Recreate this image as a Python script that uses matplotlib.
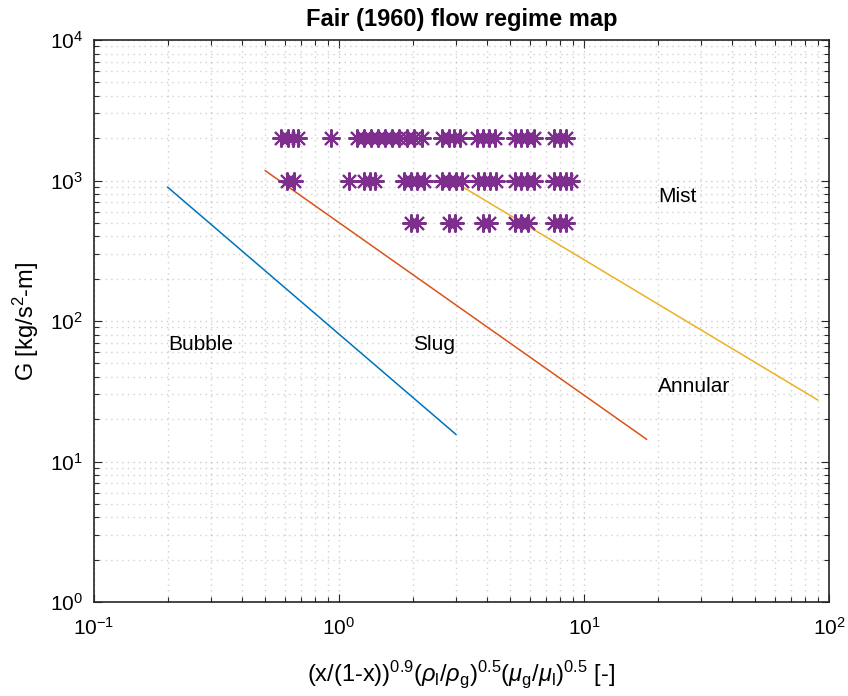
import matplotlib
matplotlib.use("Agg")
import matplotlib.pyplot as plt
import numpy as np

plt.rcParams['font.family'] = ['Liberation Sans', 'DejaVu Sans']
plt.rcParams['mathtext.fontset'] = 'custom'
plt.rcParams['mathtext.rm'] = 'Liberation Sans'
plt.rcParams['mathtext.it'] = 'Liberation Sans:italic'
plt.rcParams['mathtext.bf'] = 'Liberation Sans:bold'
plt.rcParams['axes.unicode_minus'] = False

# Boundary lines (endpoints in data units)
bubble_x = [0.2, 3.0]
bubble_G = [895, 15.6]
slug_x = [0.5, 18.0]
slug_G = [1175, 14.4]
annular_x = [3.1, 90.0]
annular_G = [930, 27.4]

# Data points, grouped by mass flux G
pts_G2000_x = [0.58, 0.62, 0.65, 0.68, 0.93,
               1.18, 1.26, 1.35, 1.44, 1.54, 1.65, 1.76, 1.89, 2.02, 2.18,
               2.64, 2.80, 2.96, 3.13, 3.67, 3.88, 4.11, 4.35,
               5.21, 5.53, 5.87, 6.23, 7.54, 7.98, 8.47]
pts_G1000_x = [0.615, 0.653, 1.10, 1.27, 1.34, 1.40,
               1.85, 1.97, 2.09, 2.22, 2.64, 2.81, 2.99, 3.18,
               3.69, 3.91, 4.13, 4.37, 5.21, 5.53, 5.87, 6.23,
               7.54, 7.96, 8.42, 8.88]
pts_G500_x = [1.96, 2.08, 2.81, 2.97, 3.87, 4.11, 5.21, 5.55, 5.91,
              7.54, 7.98, 8.47]
G_levels = [2000, 1000, 500]

labels = ["Bubble", "Slug", "Annular", "Mist"]
label_x = [0.2, 2.0, 20.0, 20.0]
label_G = [68, 68, 34, 770]

blue = '#0072BD'
orange = '#D95319'
yellow = '#EDB120'
purple = '#7E2F8E'

fig = plt.figure(figsize=(8.48, 6.96), dpi=100)
ax = fig.add_axes([94/848, 1-602/696, (829-94)/848, (602-40)/696])

ax.plot(bubble_x, bubble_G, color=blue, lw=1.1)
ax.plot(slug_x, slug_G, color=orange, lw=1.1)
ax.plot(annular_x, annular_G, color=yellow, lw=1.1)

for xs, g in zip([pts_G2000_x, pts_G1000_x, pts_G500_x], G_levels):
    ax.plot(xs, [g]*len(xs), linestyle='none', marker=(8, 2, 0),
            markersize=13, markeredgewidth=1.5, color=purple)

for t, x, g in zip(labels, label_x, label_G):
    ax.text(x, g, t, fontsize=15, ha='left', va='center')

ax.set_xscale('log')
ax.set_yscale('log')
ax.set_xlim(0.1, 100)
ax.set_ylim(1, 1e4)

ax.grid(True, which='major', linestyle=(0, (1, 3)), color='#999999', lw=1.0, alpha=0.5)
ax.grid(True, which='minor', linestyle=(0, (1, 3)), color='#999999', lw=1.0, alpha=0.45)

ax.tick_params(which='both', direction='in', top=True, right=True, labelsize=15, width=0.8, color='#262626')
ax.tick_params(axis='x', which='both', pad=11)
ax.tick_params(axis='y', which='both', pad=8)
ax.tick_params(which='major', length=6)
ax.tick_params(which='minor', length=3.5)
for s in ax.spines.values():
    s.set_linewidth(1.2)
    s.set_color('#262626')

ax.set_title('Fair (1960) flow regime map', fontsize=17, fontweight='bold', pad=10)
ax.set_xlabel(r'(x/(1-x))$^{0.9}$($\rho_{\rm l}$/$\rho_{\rm g}$)$^{0.5}$($\mu_{\rm g}$/$\mu_{\rm l}$)$^{0.5}$ [-]', fontsize=17, labelpad=14)
ax.set_ylabel(r'G [kg/s$^{2}$-m]', fontsize=17, labelpad=6)

fig.savefig('out.png', dpi=100)
